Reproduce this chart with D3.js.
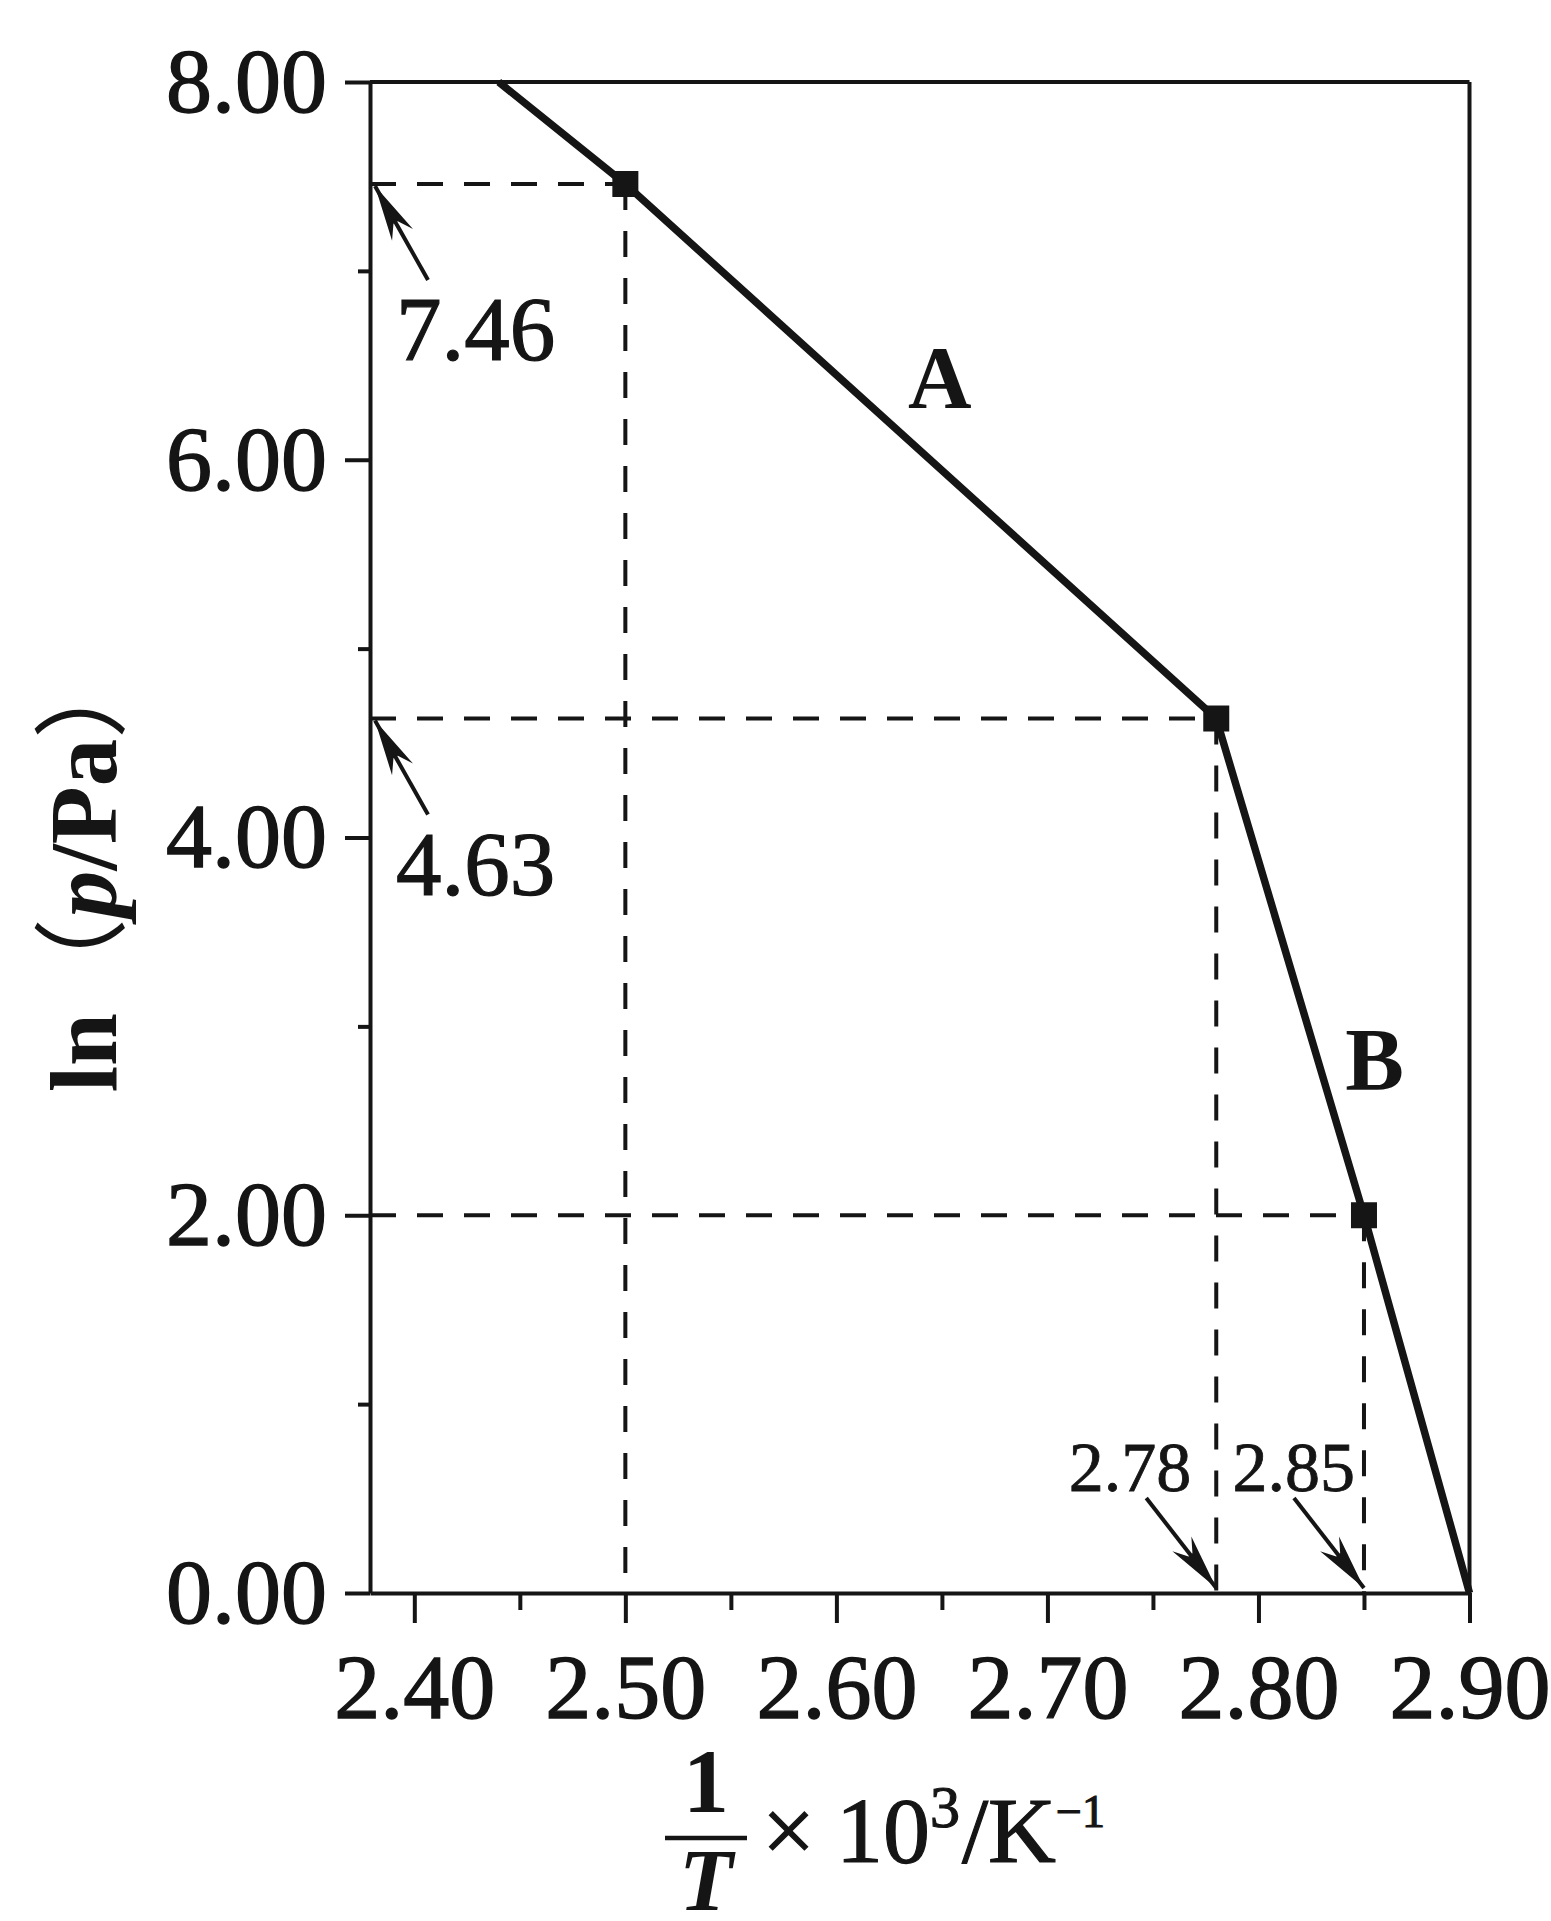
<!DOCTYPE html>
<html>
<head>
<meta charset="utf-8">
<script src="https://cdn.jsdelivr.net/npm/d3@7"></script>
<style>
  body { margin: 0; background: #fff; }
  svg text { fill: #151515; }
</style>
</head>
<body>
<script>
// 1/T x 10^3 (K^-1) and ln(p/Pa)
var invT = [2.44, 2.50, 2.78, 2.85, 2.90];
var lnP = [8.00, 7.46, 4.63, 2.00, 0.00];
var marked = [1, 2, 3];             // points drawn as squares

var xTicks = [2.40, 2.50, 2.60, 2.70, 2.80, 2.90];
var xMinor = [2.45, 2.55, 2.65, 2.75, 2.85];
var yTicks = [0, 2, 4, 6, 8];
var yMinor = [1, 3, 5, 7];

// arrows pointing at read-off values: [label, x value, y value]
var callouts = [
  ["7.46", null, 7.46],
  ["4.63", null, 4.63],
  ["2.78", 2.78, 0],
  ["2.85", 2.85, 0]
];
var calloutShift = [0, 0, -25, -9];   // label nudge, px
var segLabels = [["A", 2.649, 6.28], ["B", 2.855, 2.67]];

var width = 1551, height = 1921;
var plotL = 370, plotR = 1469.5, plotT = 82, plotB = 1593;
var serif = "'Liberation Serif', 'Times New Roman', serif";
var ink = "#151515";

var x = d3.scaleLinear().domain([2.379, 2.90]).range([plotL, plotR]);
var y = d3.scaleLinear().domain([0, 8]).range([plotB, plotT]);

var svg = d3.select("body").append("svg")
    .attr("width", width)
    .attr("height", height)
    .style("font-family", serif);

svg.append("rect").attr("width", width).attr("height", height).attr("fill", "#fff");

var defs = svg.append("defs");
defs.append("marker")
    .attr("id", "head")
    .attr("markerUnits", "userSpaceOnUse")
    .attr("viewBox", "-64 -14 66 28")
    .attr("refX", 0).attr("refY", 0)
    .attr("markerWidth", 66).attr("markerHeight", 28)
    .attr("orient", "auto")
    .style("overflow", "visible")
  .append("path")
    .attr("d", "M0,0 L-56,-12 L-42,-2.5 L-42,2.5 L-56,12 Z")
    .attr("fill", ink);

// frame (top and right sides)
svg.append("line")
    .attr("x1", plotL).attr("x2", plotR).attr("y1", plotT).attr("y2", plotT)
    .attr("stroke", ink).attr("stroke-width", 4);
svg.append("line")
    .attr("x1", plotR).attr("x2", plotR).attr("y1", plotT).attr("y2", plotB)
    .attr("stroke", ink).attr("stroke-width", 4);

// dashed guides
var pts = marked.map(function(i) { return [invT[i], lnP[i]]; });
var guides = svg.append("g")
    .attr("stroke", ink)
    .attr("stroke-width", 4)
    .attr("stroke-dasharray", "26,21")
    .attr("fill", "none");
pts.forEach(function(p) {
  guides.append("line")
      .attr("x1", x.range()[0]).attr("x2", x(p[0]))
      .attr("y1", y(p[1])).attr("y2", y(p[1]));
  guides.append("line")
      .attr("x1", x(p[0])).attr("x2", x(p[0]))
      .attr("y1", y(p[1])).attr("y2", y(0));
});

// axes
var yAxis = svg.append("g")
    .attr("transform", "translate(" + plotL + ",0)")
    .call(d3.axisLeft(y).tickValues(yTicks).tickSize(25).tickSizeOuter(0)
      .tickPadding(18).tickFormat(d3.format(".2f")));
var yAxisMinor = svg.append("g")
    .attr("transform", "translate(" + plotL + ",0)")
    .call(d3.axisLeft(y).tickValues(yMinor).tickSize(12).tickFormat(""));
var xAxis = svg.append("g")
    .attr("transform", "translate(0," + plotB + ")")
    .call(d3.axisBottom(x).tickValues(xTicks).tickSize(30).tickSizeOuter(0)
      .tickPadding(30).tickFormat(d3.format(".2f")));
var xAxisMinor = svg.append("g")
    .attr("transform", "translate(0," + plotB + ")")
    .call(d3.axisBottom(x).tickValues(xMinor).tickSize(17).tickFormat(""));

yAxisMinor.select(".domain").remove();
xAxisMinor.select(".domain").remove();

svg.selectAll(".domain, .tick line")
    .attr("stroke", ink)
    .attr("stroke-width", 4);
svg.selectAll(".tick text")
    .attr("font-family", serif)
    .attr("font-size", 92)
    .attr("fill", ink)
    .attr("stroke", ink)
    .attr("stroke-width", 1.4);

// the curve
var line = d3.line()
    .x(function(d) { return x(d[0]); })
    .y(function(d) { return y(d[1]); });

svg.append("path")
    .datum(d3.zip(invT, lnP))
    .attr("d", line)
    .attr("fill", "none")
    .attr("stroke", ink)
    .attr("stroke-width", 7.5)
    .attr("stroke-linejoin", "round");

var sq = 26;
svg.selectAll("rect.pt")
    .data(pts)
    .enter().append("rect")
    .attr("class", "pt")
    .attr("x", function(d) { return x(d[0]) - sq / 2; })
    .attr("y", function(d) { return y(d[1]) - sq / 2; })
    .attr("width", sq)
    .attr("height", sq)
    .attr("fill", ink);

// callout arrows and their labels
callouts.forEach(function(c, i) {
  var onY = c[1] === null;
  var tx = onY ? x.range()[0] + 5 : x(c[1]);
  var ty = onY ? y(c[2]) + 2 : y(c[2]) - 5;
  var sx = onY ? tx + 53 : tx - 70;
  var sy = onY ? ty + 94 : ty - 90;
  svg.append("line")
      .attr("x1", sx).attr("y1", sy)
      .attr("x2", tx).attr("y2", ty)
      .attr("stroke", ink)
      .attr("stroke-width", 4)
      .attr("marker-end", "url(#head)");
  var t = svg.append("text")
      .text(c[0])
      .attr("fill", ink)
      .attr("stroke", ink)
      .attr("stroke-width", 1.2);
  if (onY) {
    t.attr("x", tx + 21).attr("y", ty + 174)
        .attr("font-size", 91);
  } else {
    t.attr("x", tx + calloutShift[i]).attr("y", ty - 97)
        .attr("text-anchor", "end")
        .attr("font-size", 70)
        .attr("stroke-width", 0.8);
  }
});

svg.selectAll("text.seg")
    .data(segLabels)
    .enter().append("text")
    .attr("class", "seg")
    .attr("x", function(d) { return x(d[1]); })
    .attr("y", function(d) { return y(d[2]); })
    .attr("text-anchor", "middle")
    .attr("font-size", 88)
    .attr("font-weight", "bold")
    .attr("fill", ink)
    .text(function(d) { return d[0]; });

// y axis title
var yt = svg.append("text")
    .attr("transform", "translate(116,868) rotate(-90)")
    .attr("text-anchor", "middle")
    .attr("font-size", 95)
    .attr("font-weight", "bold")
    .attr("fill", ink);
yt.append("tspan").text("ln");
yt.append("tspan").attr("font-family", "'Noto Sans CJK SC'").attr("font-weight", "normal").text("（");
yt.append("tspan").attr("font-style", "italic").text("p");
yt.append("tspan").text("/Pa");
yt.append("tspan").attr("font-family", "'Noto Sans CJK SC'").attr("font-weight", "normal").text("）");

// x axis title: 1/T x 10^3 / K^-1
var fx = 706;
svg.append("text")
    .attr("x", fx).attr("y", 1812)
    .attr("text-anchor", "middle")
    .attr("font-size", 92)
    .attr("font-weight", "bold")
    .attr("fill", ink)
    .text("1");
svg.append("line")
    .attr("x1", fx - 41).attr("x2", fx + 41)
    .attr("y1", 1838).attr("y2", 1838)
    .attr("stroke", ink).attr("stroke-width", 4.5);
svg.append("text")
    .attr("x", fx).attr("y", 1910)
    .attr("text-anchor", "middle")
    .attr("font-size", 88)
    .attr("font-style", "italic")
    .attr("font-weight", "bold")
    .attr("fill", ink)
    .text("T");

var xt = svg.append("text")
    .attr("font-size", 94)
    .attr("fill", ink)
    .attr("stroke", ink)
    .attr("stroke-width", 1.2);
xt.append("tspan").attr("x", 762).attr("y", 1862).text("×");
xt.append("tspan").attr("x", 836).attr("y", 1862).text("10");
xt.append("tspan").attr("x", 930).attr("y", 1827).attr("font-size", 60).text("3");
xt.append("tspan").attr("x", 962).attr("y", 1862).text("/K");
xt.append("tspan").attr("x", 1056).attr("y", 1827).attr("font-size", 46).text("−1");
</script>
</body>
</html>
